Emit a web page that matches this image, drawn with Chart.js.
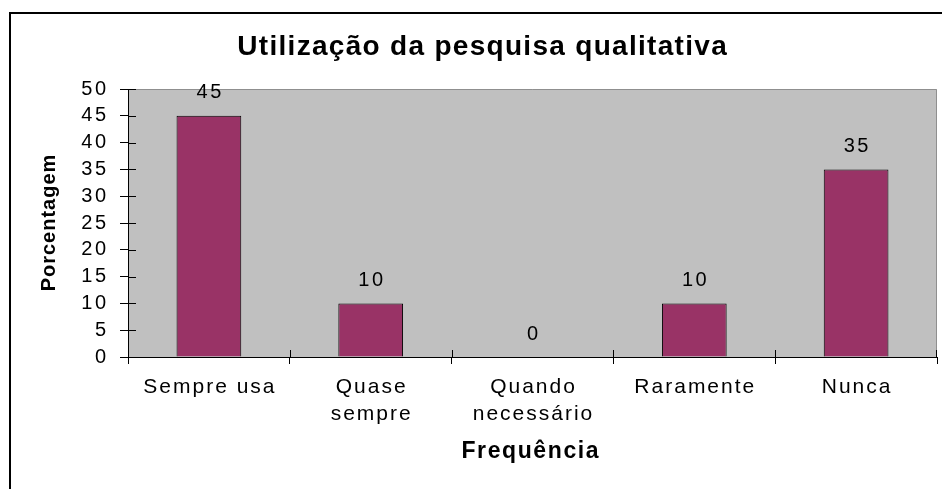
<!DOCTYPE html>
<html><head><meta charset="utf-8">
<script src="https://cdn.jsdelivr.net/npm/chart.js@4/dist/chart.umd.min.js"></script>
<style>html,body{margin:0;padding:0;background:#fff;}canvas{display:block;}</style>
</head><body>
<canvas id="c" width="942" height="489"></canvas>
<script>
// ---- data ----
const categories = [['Sempre usa'], ['Quase', 'sempre'], ['Quando', 'necessário'], ['Raramente'], ['Nunca']];
const percentages = [45, 10, 0, 10, 35];
const yMin = 0, yMax = 50, yStep = 5;
const chartTitle = 'Utilização da pesquisa qualitativa';
const xTitle = 'Frequência';
const yTitle = 'Porcentagem';

const FONT = '"Liberation Sans", Arial, Helvetica, sans-serif';
const SP = { title: 1.3, xLabels: 2, yLabels: 2.5, xTitle: 1.6, yTitle: 1, data: 2.5 };

function wrapSpacing(chart, obj, fn, sp, dx, dy) {
  if (!obj || obj['__sp_' + fn]) return;
  const orig = obj[fn];
  obj[fn] = function (...args) {
    const ctx = chart.ctx;
    ctx.save();
    ctx.letterSpacing = sp + 'px';
    ctx.translate(dx || 0, dy || 0);
    const r = orig.apply(this, args);
    ctx.restore();
    return r;
  };
  obj['__sp_' + fn] = true;
}

const spacingPlugin = {
  id: 'spacing',
  afterLayout(chart) {
    wrapSpacing(chart, chart.titleBlock, 'draw', SP.title, 7.5 + SP.title / 2, 0);
    wrapSpacing(chart, chart.scales.x, 'drawLabels', SP.xLabels, SP.xLabels / 2, 0);
    wrapSpacing(chart, chart.scales.x, 'drawTitle', SP.xTitle, SP.xTitle / 2 - 2.5, 0);
    wrapSpacing(chart, chart.scales.y, 'drawLabels', SP.yLabels, 0, 0);
    wrapSpacing(chart, chart.scales.y, 'drawTitle', SP.yTitle, 0, -SP.yTitle / 2);
  }
};

const backgroundPlugin = {
  id: 'bg',
  beforeDraw(chart) {
    const ctx = chart.ctx, a = chart.chartArea;
    ctx.save();
    ctx.fillStyle = '#ffffff';
    ctx.fillRect(0, 0, chart.width, chart.height);
    ctx.strokeStyle = '#000000';
    ctx.lineWidth = 2;
    ctx.strokeRect(10, 13, 2000, 2000);
    ctx.fillStyle = '#c0c0c0';
    ctx.fillRect(a.left, a.top, a.right - a.left, a.bottom - a.top);
    ctx.strokeStyle = '#8f8f8f';
    ctx.lineWidth = 1;
    ctx.beginPath();
    ctx.moveTo(a.left, a.top + 0.5);
    ctx.lineTo(a.right - 0.5, a.top + 0.5);
    ctx.lineTo(a.right - 0.5, a.bottom);
    ctx.stroke();
    ctx.restore();
  }
};

const innerTicksPlugin = {
  id: 'innerTicks',
  afterDatasetsDraw(chart) {
    const ctx = chart.ctx, x = chart.scales.x, y = chart.scales.y, a = chart.chartArea;
    ctx.save();
    ctx.strokeStyle = '#000';
    ctx.lineWidth = 1;
    ctx.beginPath();
    for (let i = 0; i <= categories.length; i++) {
      const px = Math.round(x.getPixelForValue(i - 0.5)) + 0.5;
      const pxc = Math.min(px, a.right - 0.5);
      ctx.moveTo(pxc, a.bottom);
      ctx.lineTo(pxc, a.bottom - 7);
    }
    for (let v = yMin; v <= yMax; v += yStep) {
      const py = Math.round(y.getPixelForValue(v)) + 0.5;
      ctx.moveTo(a.left, py);
      ctx.lineTo(a.left + 8, py);
    }
    ctx.stroke();
    ctx.restore();
  }
};

const dataLabelPlugin = {
  id: 'dataLabels',
  afterDatasetsDraw(chart) {
    const ctx = chart.ctx;
    const meta = chart.getDatasetMeta(0);
    ctx.save();
    ctx.font = '20px ' + FONT;
    ctx.letterSpacing = SP.data + 'px';
    ctx.fillStyle = '#000';
    ctx.textAlign = 'center';
    ctx.textBaseline = 'middle';
    meta.data.forEach((el, i) => {
      ctx.fillText(String(percentages[i]), el.x + SP.data / 2, el.y - 23);
    });
    ctx.restore();
  }
};

new Chart(document.getElementById('c'), {
  type: 'bar',
  data: {
    labels: categories,
    datasets: [{
      data: percentages,
      backgroundColor: '#993366',
      borderColor: '#000000',
      borderWidth: 1,
      barPercentage: 0.4,
      categoryPercentage: 1.0
    }]
  },
  options: {
    responsive: false,
    animation: false,
    devicePixelRatio: 1,
    layout: { padding: { left: 12, right: 5, top: 0, bottom: 0 } },
    plugins: {
      legend: { display: false },
      tooltip: { enabled: false },
      title: {
        display: true,
        text: chartTitle,
        color: '#000',
        font: { family: FONT, size: 28, weight: 'bold', lineHeight: 1.2 },
        padding: { top: 30.2, bottom: 25.2 }
      }
    },
    scales: {
      x: {
        offset: true,
        grid: { display: true, offset: true, drawOnChartArea: false, drawTicks: true, tickLength: 7, color: '#000', lineWidth: 1 },
        border: { display: true, color: '#000', width: 1 },
        ticks: { color: '#000', font: { family: FONT, size: 21, lineHeight: 1.286 }, padding: 10, maxRotation: 0, minRotation: 0, autoSkip: false },
        title: { display: true, text: xTitle, color: '#000', font: { family: FONT, size: 23, weight: 'bold', lineHeight: 1.2 }, padding: { top: 0, bottom: 23.2 } },
        afterFit(s) { s.height = 132; }
      },
      y: {
        min: yMin, max: yMax,
        grid: { display: true, drawOnChartArea: false, drawTicks: true, tickLength: 8, color: '#000', lineWidth: 1 },
        border: { display: true, color: '#000', width: 1 },
        ticks: { stepSize: yStep, autoSkip: false, color: '#000', font: { family: FONT, size: 20, lineHeight: 1 }, padding: 11.5 },
        title: { display: true, text: yTitle, color: '#000', font: { family: FONT, size: 20, weight: 'bold', lineHeight: 1.2 }, padding: { top: 25.6, bottom: 0 } },
        afterFit(s) { s.width = 116; }
      }
    }
  },
  plugins: [spacingPlugin, backgroundPlugin, innerTicksPlugin, dataLabelPlugin]
});
</script>
</body></html>
